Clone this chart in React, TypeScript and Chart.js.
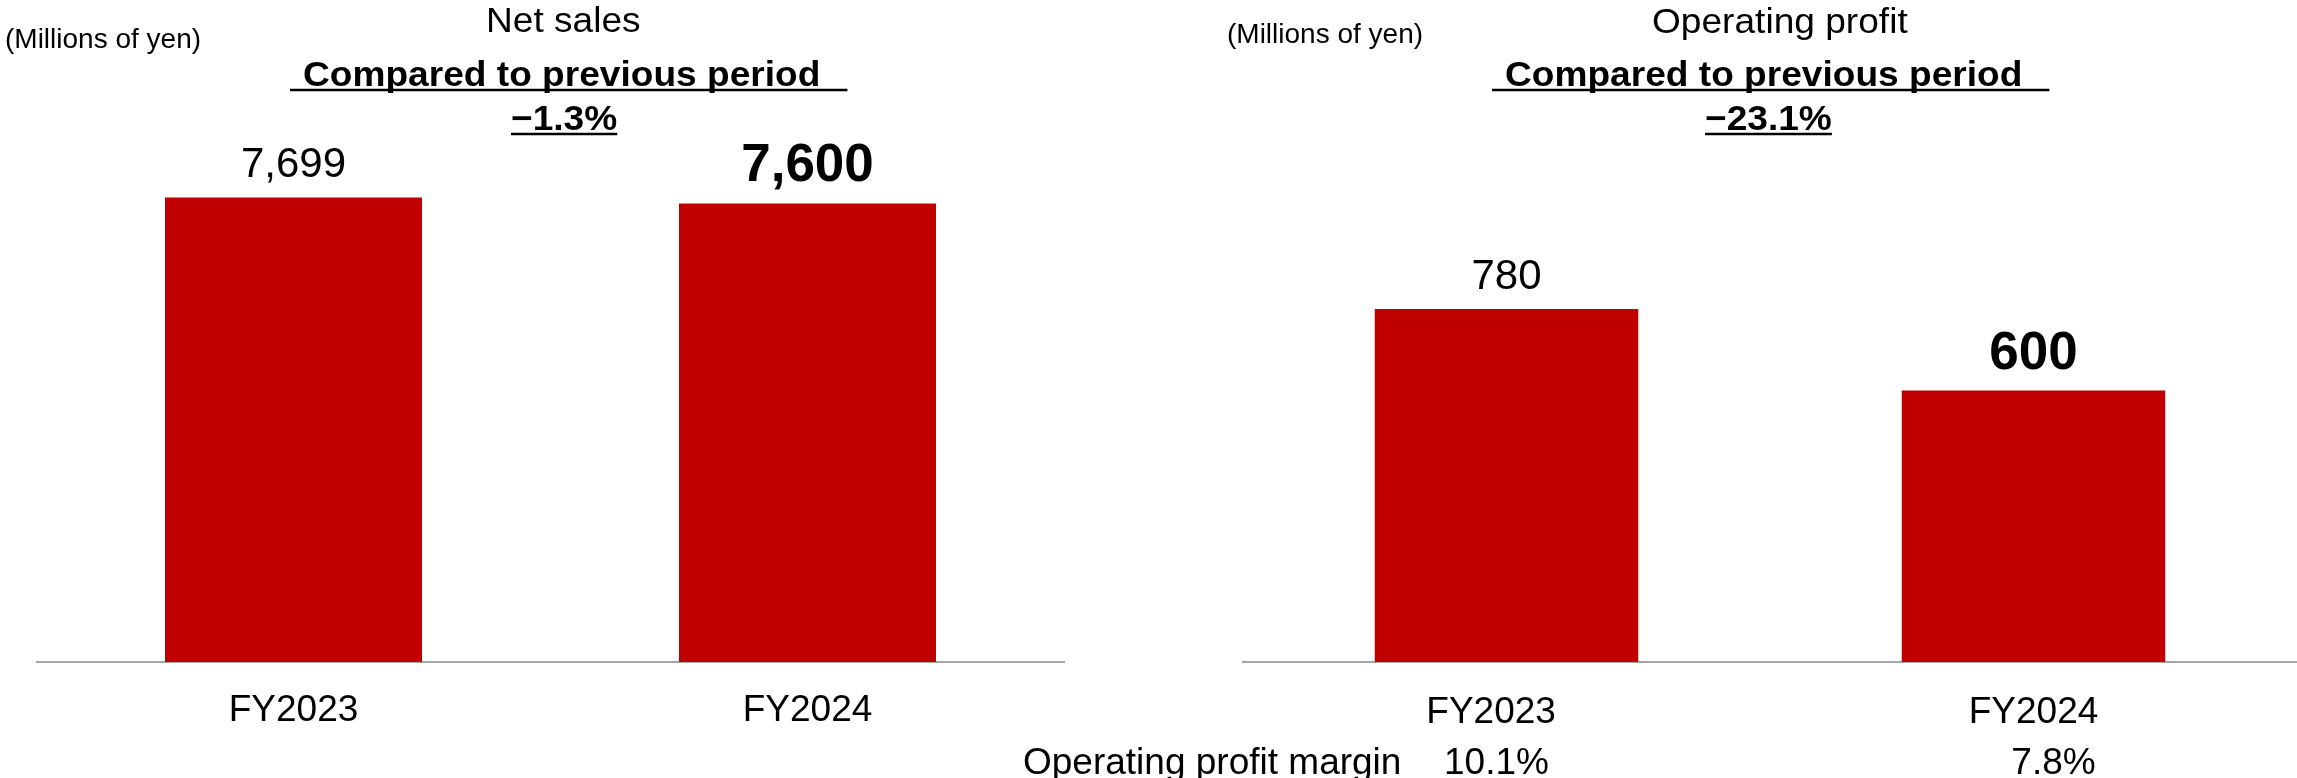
import React, { useEffect, useRef } from "react";
import { Chart, registerables } from "chart.js";

Chart.register(...registerables);

const FONT = '"Liberation Sans", Arial, Helvetica, sans-serif';

// ---------------- data ----------------
const CATEGORIES = ["FY2023", "FY2024"];
const NET_SALES = [7699, 7600];
const OPERATING_PROFIT = [780, 600];
const OPERATING_MARGIN = [10.1, 7.8];
const NET_SALES_CHANGE = -1.3;
const OPERATING_PROFIT_CHANGE = -23.1;
const NET_SALES_AXIS_MAX = 9000;
const OPERATING_PROFIT_AXIS_MAX = 1200;
const NET_SALES_TITLE = "Net sales";
const OPERATING_PROFIT_TITLE = "Operating profit";
const UNIT_LABEL = "(Millions of yen)";
const COMPARE_LABEL = "Compared to previous period";
const MARGIN_LABEL = "Operating profit margin";

// ---------------- style ----------------
const BAR_COLOR = "#C00000";
const AXIS_COLOR = "#A6A6A6";
const TITLE_SIZE = 35;
const TITLE_STRETCH = 1.06;

const fmtValue = (v: number) => v.toLocaleString("en-US");
const fmtChange = (v: number) => (v < 0 ? "\u2212" : "+") + Math.abs(v).toFixed(1) + "%";
const fmtPct = (v: number) => v.toFixed(1) + "%";

type Panel = {
  canvasLeft: number;
  canvasWidth: number;
  plotLeft: number;
  plotRight: number;
  title: string;
  titleX: number;
  titleY: number;
  unitX: number;
  unitY: number;
  compareX: number;
  changeText: string;
  changeX: number;
  values: number[];
  max: number;
  tickPad: number[];
  tickPadding: number;
  margins?: number[];
  marginShift?: number[];
};

const LEFT_PANEL: Panel = {
  canvasLeft: 0,
  canvasWidth: 1150,
  plotLeft: 36.5,
  plotRight: 1064.5,
  title: NET_SALES_TITLE,
  titleX: 486,
  titleY: 32,
  unitX: 5,
  unitY: 48,
  compareX: 303,
  changeText: fmtChange(NET_SALES_CHANGE),
  changeX: 511,
  values: NET_SALES,
  max: NET_SALES_AXIS_MAX,
  tickPad: [0, 0],
  tickPadding: 26.5,
};

const RIGHT_PANEL: Panel = {
  canvasLeft: 1000,
  canvasWidth: 1297,
  plotLeft: 1243,
  plotRight: 2297,
  title: OPERATING_PROFIT_TITLE,
  titleX: 1652,
  titleY: 33,
  unitX: 1227,
  unitY: 43,
  compareX: 1505,
  changeText: fmtChange(OPERATING_PROFIT_CHANGE),
  changeX: 1705,
  values: OPERATING_PROFIT,
  max: OPERATING_PROFIT_AXIS_MAX,
  tickPad: [3, 0],
  tickPadding: 28.5,
  margins: OPERATING_MARGIN,
  marginShift: [-10, 20],
};

const CANVAS_H = 778;
const PLOT_TOP = 119;
const PLOT_BOTTOM = 662;

function drawStretched(
  ctx: CanvasRenderingContext2D,
  text: string,
  x: number,
  y: number,
  font: string,
  sx: number
): number {
  ctx.save();
  ctx.font = font;
  ctx.textAlign = "left";
  ctx.textBaseline = "alphabetic";
  ctx.translate(x, y);
  ctx.scale(sx, 1);
  ctx.fillText(text, 0, 0);
  const w = ctx.measureText(text).width * sx;
  ctx.restore();
  return w;
}

function underline(ctx: CanvasRenderingContext2D, x1: number, x2: number, y: number) {
  ctx.save();
  ctx.strokeStyle = "#000";
  ctx.lineWidth = 2.5;
  ctx.beginPath();
  ctx.moveTo(x1, y);
  ctx.lineTo(x2, y);
  ctx.stroke();
  ctx.restore();
}

function makeOverlay(p: Panel) {
  return {
    id: "overlayText",
    afterDraw(chart: any) {
      const ctx: CanvasRenderingContext2D = chart.ctx;
      const ox = p.canvasLeft;
      ctx.save();
      ctx.fillStyle = "#000";
      ctx.textBaseline = "alphabetic";

      // unit
      ctx.font = `28px ${FONT}`;
      ctx.textAlign = "left";
      ctx.fillText(UNIT_LABEL, p.unitX - ox, p.unitY);

      // title
      drawStretched(ctx, p.title, p.titleX - ox, p.titleY, `${TITLE_SIZE}px ${FONT}`, TITLE_STRETCH);

      // compared to previous period
      const cw = drawStretched(ctx, COMPARE_LABEL, p.compareX - ox, 86, `bold ${TITLE_SIZE}px ${FONT}`, TITLE_STRETCH);
      underline(ctx, p.compareX - ox - 13, p.compareX - ox + cw + 27, 90);

      // change
      const chw = drawStretched(ctx, p.changeText, p.changeX - ox, 130, `bold ${TITLE_SIZE}px ${FONT}`, TITLE_STRETCH);
      underline(ctx, p.changeX - ox, p.changeX - ox + chw, 134);

      // value labels
      const meta = chart.getDatasetMeta(0);
      const n = meta.data.length;
      meta.data.forEach((bar: any, i: number) => {
        const latest = i === n - 1;
        ctx.font = latest ? `bold 53px ${FONT}` : `42px ${FONT}`;
        ctx.textAlign = "center";
        ctx.fillText(fmtValue(p.values[i]), bar.x, bar.y - (latest ? 22 : 20));
      });

      // operating profit margin row
      if (p.margins) {
        ctx.font = `37px ${FONT}`;
        ctx.textAlign = "left";
        ctx.fillText(MARGIN_LABEL, 1023 - ox, 774);
        const xs = chart.scales.x;
        ctx.textAlign = "center";
        p.margins.forEach((m, i) => {
          const shift = p.marginShift ? p.marginShift[i] : 0;
          ctx.fillText(fmtPct(m), xs.getPixelForValue(i) + shift, 774);
        });
      }
      ctx.restore();
    },
  };
}

function createChart(canvas: HTMLCanvasElement, p: Panel) {
  return new Chart(canvas, {
    type: "bar",
    data: {
      labels: CATEGORIES,
      datasets: [
        {
          data: p.values,
          backgroundColor: BAR_COLOR,
          borderWidth: 0,
          barPercentage: 0.5,
          categoryPercentage: 1,
        },
      ],
    },
    options: {
      responsive: false,
      animation: false,
      events: [],
      layout: {
        padding: {
          left: p.plotLeft - p.canvasLeft,
          right: p.canvasLeft + p.canvasWidth - p.plotRight,
          top: PLOT_TOP,
          bottom: 0,
        },
      },
      plugins: {
        legend: { display: false },
        tooltip: { enabled: false },
        title: { display: false },
      },
      scales: {
        x: {
          grid: { display: false, drawTicks: false },
          border: { display: true, color: AXIS_COLOR, width: 2 },
          ticks: {
            color: "#000",
            font: { family: FONT, size: 37 },
            padding: p.tickPadding,
            maxRotation: 0,
            autoSkip: false,
            callback: (_v: any, i: number) => CATEGORIES[i] + "\u00a0".repeat(p.tickPad[i] || 0),
          },
          afterFit: (scale: any) => {
            scale.height = CANVAS_H - PLOT_BOTTOM;
          },
        },
        y: { display: false, min: 0, max: p.max },
      },
    } as any,
    plugins: [makeOverlay(p)],
  });
}

export default function App() {
  const leftRef = useRef<HTMLCanvasElement>(null);
  const rightRef = useRef<HTMLCanvasElement>(null);

  useEffect(() => {
    const charts: Chart[] = [];
    if (leftRef.current) charts.push(createChart(leftRef.current, LEFT_PANEL));
    if (rightRef.current) charts.push(createChart(rightRef.current, RIGHT_PANEL));
    return () => charts.forEach((c) => c.destroy());
  }, []);

  return (
    <div
      style={{
        position: "fixed",
        left: 0,
        top: 0,
        width: 2297,
        height: CANVAS_H,
        background: "#fff",
        overflow: "hidden",
      }}
    >
      <canvas
        ref={leftRef}
        width={LEFT_PANEL.canvasWidth}
        height={CANVAS_H}
        style={{ position: "absolute", left: LEFT_PANEL.canvasLeft, top: 0, width: LEFT_PANEL.canvasWidth, height: CANVAS_H }}
      />
      <canvas
        ref={rightRef}
        width={RIGHT_PANEL.canvasWidth}
        height={CANVAS_H}
        style={{ position: "absolute", left: RIGHT_PANEL.canvasLeft, top: 0, width: RIGHT_PANEL.canvasWidth, height: CANVAS_H }}
      />
    </div>
  );
}
